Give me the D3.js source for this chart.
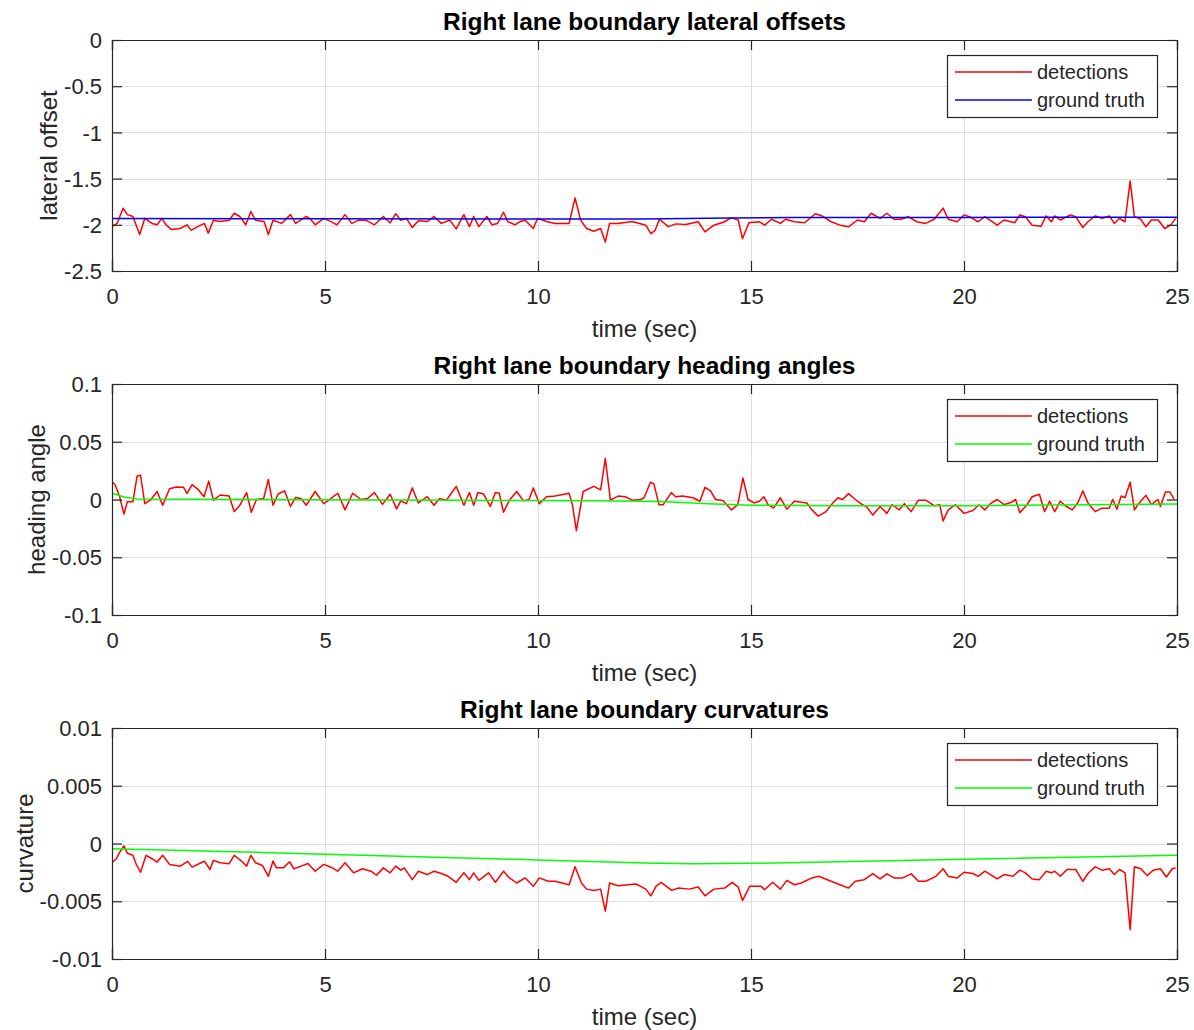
<!DOCTYPE html>
<html>
<head>
<meta charset="utf-8">
<script src="https://cdn.jsdelivr.net/npm/d3@7"></script>
<style>
  html, body { margin: 0; padding: 0; background: #fff; }
  svg { display: block; font-family: "Liberation Sans", Arial, Helvetica, sans-serif; }
</style>
</head>
<body>
<svg id="chart" width="1194" height="1030"></svg>
<script>
// ---------------- DATA ----------------
const xTicks = [0, 5, 10, 15, 20, 25];
const xTickLabels = ["0", "5", "10", "15", "20", "25"];

const titles = ["Right lane boundary lateral offsets", "Right lane boundary heading angles", "Right lane boundary curvatures"];
const yLabels = ["lateral offset", "heading angle", "curvature"];
const xLabel = "time (sec)";
const legendLabels = ["detections", "ground truth"];

const yTicks1 = [0, -0.5, -1, -1.5, -2, -2.5];
const yTickLabels1 = ["0", "-0.5", "-1", "-1.5", "-2", "-2.5"];
const yTicks2 = [0.1, 0.05, 0, -0.05, -0.1];
const yTickLabels2 = ["0.1", "0.05", "0", "-0.05", "-0.1"];
const yTicks3 = [0.01, 0.005, 0, -0.005, -0.01];
const yTickLabels3 = ["0.01", "0.005", "0", "-0.005", "-0.01"];

// Panel 1: lateral offset detections
const t1 = [0.00,0.12,0.26,0.36,0.49,0.65,0.77,0.94,1.06,1.17,1.27,1.39,1.60,1.76,1.86,2.01,2.17,2.26,2.38,2.54,2.75,2.87,3.00,3.14,3.26,3.37,3.57,3.67,3.78,3.98,4.19,4.31,4.56,4.64,4.77,4.97,5.14,5.28,5.47,5.63,5.79,5.96,6.16,6.37,6.53,6.66,6.78,6.91,7.05,7.19,7.40,7.56,7.73,7.93,8.08,8.26,8.39,8.49,8.61,8.80,8.92,9.05,9.19,9.29,9.46,9.58,9.70,9.89,9.99,10.20,10.40,10.73,10.87,11.00,11.14,11.31,11.47,11.58,11.68,11.88,12.21,12.38,
  12.53,12.65,12.75,12.85,13.06,13.23,13.47,13.76,13.92,14.13,14.38,14.54,14.70,14.80,14.95,15.20,15.32,15.48,15.69,15.81,16.02,16.26,16.51,16.67,16.88,17.09,17.29,17.50,17.66,17.82,18.03,18.19,18.36,18.52,18.69,18.89,19.10,19.30,19.51,19.63,19.84,20.00,20.16,20.33,20.49,20.78,20.94,21.19,21.31,21.44,21.60,21.81,21.93,22.05,22.13,22.26,22.50,22.62,22.79,22.91,23.08,23.24,23.41,23.53,23.65,23.78,23.90,24.00,24.15,24.27,24.40,24.56,24.71,24.85,24.97];
const lat1 = [-2.02,-1.985,-1.82,-1.89,-1.91,-2.105,-1.93,-1.985,-2.00,-1.93,-2.00,-2.05,-2.04,-2.00,-2.06,-2.02,-1.985,-2.09,-1.95,-1.965,-1.95,-1.875,-1.91,-2.00,-1.857,-1.95,-1.965,-2.105,-1.95,-1.985,-1.89,-1.985,-1.91,-1.93,-2.00,-1.93,-1.965,-2.00,-1.89,-1.985,-1.95,-1.95,-2.00,-1.91,-1.98,-1.88,-1.95,-1.93,-2.03,-1.956,-1.965,-1.91,-1.985,-1.95,-2.044,-1.89,-2.02,-1.91,-2.02,-1.91,-2.00,-1.985,-1.864,-1.965,-2.00,-1.965,-1.95,-2.04,-1.93,-1.965,-1.985,-1.985,-1.71,-1.95,-2.04,-2.07,-2.04,-2.187,-1.985,-1.985,-1.965,-1.985,
  -2.004,-2.096,-2.06,-1.94,-2.02,-1.99,-1.996,-1.967,-2.077,-2.004,-1.967,-1.923,-1.948,-2.15,-1.978,-1.967,-2.004,-1.94,-1.985,-1.94,-1.967,-1.978,-1.88,-1.904,-1.967,-2.004,-2.022,-1.948,-1.967,-1.875,-1.93,-1.875,-1.94,-1.94,-1.912,-1.967,-1.985,-1.94,-1.82,-1.94,-1.967,-1.893,-1.919,-1.967,-1.912,-2.004,-1.948,-1.978,-1.893,-1.912,-2.004,-2.015,-1.904,-1.967,-1.904,-1.948,-1.893,-1.912,-2.029,-1.967,-1.904,-1.93,-1.904,-1.985,-1.93,-1.967,-1.526,-1.912,-1.94,-2.022,-1.948,-1.948,-2.04,-2.004,-1.93];
// Panel 1: ground truth
const gtT1 = [0, 5, 10, 12.4, 13.5, 14.5, 16, 20, 25];
const gtLat1 = [-1.932, -1.935, -1.937, -1.937, -1.933, -1.926, -1.922, -1.92, -1.918];

// Panel 2: heading angle detections
const t2 = [0.00,0.07,0.18,0.28,0.36,0.49,0.59,0.67,0.77,0.90,1.06,1.19,1.35,1.51,1.68,1.76,1.88,2.01,2.16,2.27,2.38,2.54,2.75,2.87,3.00,3.16,3.27,3.39,3.56,3.67,3.78,3.90,4.05,4.19,4.31,4.44,4.56,4.77,4.97,5.09,5.30,5.47,5.65,5.84,6.00,6.16,6.35,6.53,6.68,6.78,6.91,7.05,7.19,7.40,7.56,7.69,7.85,8.08,8.26,8.39,8.49,8.59,8.72,8.88,9.00,9.09,9.19,9.33,9.50,9.66,9.79,9.89,10.03,10.20,10.40,10.73,10.81,10.90,11.06,11.31,11.47,11.58,11.70,11.88,12.05,12.21,12.41,12.49,
  12.64,12.72,12.84,12.94,13.13,13.23,13.39,13.64,13.80,13.92,14.05,14.17,14.34,14.54,14.69,14.81,14.93,15.07,15.20,15.30,15.40,15.53,15.69,15.84,16.02,16.18,16.31,16.43,16.58,16.76,16.92,17.04,17.15,17.29,17.45,17.58,17.72,17.86,18.03,18.19,18.31,18.48,18.60,18.76,18.93,19.10,19.30,19.43,19.51,19.63,19.80,20.00,20.21,20.35,20.49,20.62,20.78,20.94,21.11,21.21,21.31,21.48,21.60,21.77,21.89,22.01,22.13,22.26,22.38,22.54,22.67,22.79,22.91,23.08,23.24,23.41,23.49,23.59,23.69,23.78,23.90,24.00,24.10,24.27,24.40,24.55,24.61,24.73,24.83,24.93];
const head2 = [0.015,0.013,0.0024,-0.0126,-0.002,-0.002,0.0204,0.021,-0.0036,-0.0006,0.0069,-0.005,0.0093,0.0108,0.0105,0.0054,0.0129,0.009,0.0024,0.0159,-0.0006,0.0039,0.003,-0.0105,-0.005,0.006,-0.011,0,0.0009,0.0174,-0.005,0.0048,0.0075,-0.006,0.0018,0.0009,-0.005,0.0069,-0.0036,-0.0006,0.0054,-0.009,0.0054,0,0.0009,0.006,-0.0042,0.0045,-0.0081,-0.0012,-0.0036,0.0099,-0.003,0.0024,-0.005,0.0009,-0.0006,0.0114,-0.005,0.006,-0.005,0.006,0.0048,-0.006,0.006,0.0054,-0.011,-0.0006,0.0069,-0.0012,0,0.0099,-0.0036,0.0024,0.003,0.0054,-0.005,-0.027,0.0069,0.0114,0.0084,0.0354,-0.0006,0.003,0.0024,-0.0006,0,0.0015,
  0.015,0.0135,-0.0045,-0.0045,0.006,0.0024,0.003,0.0015,-0.0015,0.0105,0.0075,0,-0.0009,-0.009,-0.0045,0.0186,0,-0.003,-0.0015,0.0024,-0.0045,-0.0075,0.0015,-0.0084,-0.0015,-0.0024,-0.003,-0.009,-0.0144,-0.0105,-0.003,0.0015,0,0.0051,0,-0.0036,-0.0066,-0.0135,-0.006,-0.012,-0.0045,-0.009,-0.0036,-0.0105,-0.0006,-0.0006,-0.0054,-0.0045,-0.0186,-0.009,-0.0045,-0.012,-0.0096,-0.0045,-0.009,-0.0036,0,-0.0045,-0.0024,0,-0.0114,-0.0045,0.0024,0.0045,-0.0105,-0.0015,-0.0105,-0.0015,-0.0054,-0.009,-0.003,0.0075,-0.003,-0.0105,-0.0075,-0.0075,0,-0.0084,0.003,0.0015,0.015,-0.009,-0.0036,0.0036,-0.0045,0,-0.006,0.0066,0.0066,0.0006];
// Panel 2: ground truth
const gtT2 = [0, 0.3, 0.6, 2, 5, 8, 10, 12, 13, 14, 15, 17, 20, 23, 25];
const gtHead2 = [0.0055, 0.002, 0.0005, 0.0003, -0.0002, -0.0006, -0.0009, -0.0012, -0.002, -0.0036, -0.005, -0.0054, -0.0054, -0.0046, -0.0038];

// Panel 3: curvature detections
const t3 = [0.00,0.10,0.20,0.28,0.36,0.49,0.57,0.67,0.80,0.94,1.06,1.19,1.35,1.60,1.78,1.88,2.09,2.17,2.30,2.38,2.54,2.75,2.87,3.04,3.16,3.26,3.37,3.53,3.67,3.78,3.86,4.02,4.17,4.27,4.44,4.60,4.77,4.97,5.14,5.30,5.47,5.67,5.88,6.08,6.21,6.37,6.53,6.66,6.78,6.86,7.05,7.19,7.40,7.56,7.73,7.89,8.08,8.26,8.39,8.49,8.61,8.84,9.00,9.19,9.33,9.50,9.70,9.89,10.03,10.24,10.40,10.73,10.87,11.02,11.14,11.31,11.47,11.58,11.68,11.88,12.12,12.30,
  12.41,12.53,12.65,12.77,12.89,13.14,13.30,13.55,13.76,13.92,14.13,14.38,14.56,14.70,14.80,14.97,15.24,15.32,15.51,15.69,15.84,16.02,16.18,16.43,16.59,16.88,17.09,17.29,17.45,17.66,17.86,18.03,18.19,18.36,18.56,18.76,18.93,19.10,19.34,19.51,19.63,19.84,20.00,20.21,20.33,20.49,20.78,20.94,21.15,21.31,21.44,21.60,21.77,21.93,22.05,22.13,22.26,22.42,22.62,22.79,22.91,23.08,23.24,23.41,23.53,23.65,23.78,23.90,24.00,24.15,24.30,24.44,24.61,24.75,24.89,24.97];
const curv3 = [-0.00167,-0.00132,-0.00064,-0.0002,-0.00085,-0.00102,-0.00181,-0.00249,-0.00102,-0.00132,-0.00161,-0.00102,-0.00181,-0.00196,-0.00155,-0.00205,-0.00167,-0.00152,-0.00225,-0.00146,-0.00167,-0.00175,-0.00102,-0.00152,-0.00196,-0.00102,-0.00167,-0.0019,-0.00284,-0.00152,-0.00211,-0.00211,-0.00158,-0.00219,-0.00196,-0.00173,-0.0024,-0.00181,-0.00205,-0.0024,-0.00167,-0.00254,-0.00219,-0.0024,-0.00275,-0.00211,-0.00254,-0.00196,-0.00231,-0.00211,-0.00313,-0.0024,-0.00269,-0.0024,-0.0026,-0.00284,-0.00336,-0.00254,-0.00313,-0.00254,-0.00319,-0.00254,-0.00336,-0.0024,-0.00298,-0.00342,-0.00298,-0.00371,-0.00298,-0.00327,-0.00327,-0.00357,-0.00202,-0.00342,-0.00395,-0.00406,-0.00395,-0.00585,-0.00342,-0.00366,-0.00357,-0.00351,
  -0.00371,-0.00395,-0.00453,-0.00371,-0.00336,-0.00406,-0.00386,-0.00395,-0.00377,-0.00453,-0.00395,-0.00386,-0.00336,-0.00377,-0.00494,-0.00371,-0.00371,-0.00401,-0.00336,-0.00395,-0.00319,-0.00357,-0.00342,-0.00298,-0.00284,-0.00327,-0.00357,-0.00386,-0.00327,-0.00313,-0.0026,-0.00307,-0.00263,-0.00298,-0.00298,-0.00263,-0.00327,-0.00327,-0.00284,-0.00219,-0.00284,-0.00298,-0.00249,-0.0026,-0.00284,-0.0024,-0.00307,-0.00269,-0.00284,-0.00231,-0.00254,-0.00307,-0.00313,-0.0024,-0.00254,-0.0024,-0.00284,-0.00225,-0.00225,-0.00327,-0.0026,-0.00202,-0.00231,-0.00219,-0.00269,-0.00225,-0.00254,-0.00746,-0.00202,-0.00219,-0.00278,-0.00231,-0.00219,-0.0029,-0.00219,-0.00211];
// Panel 3: ground truth
const gtT3 = [0, 5, 10, 12.5, 13.6, 15, 20, 25];
const gtCurv3 = [-0.00045, -0.00092, -0.00142, -0.00168, -0.00175, -0.00172, -0.00136, -0.00102];

// ---------------- LAYOUT / STYLE ----------------
const svg = d3.select("#chart");
const L = 112, R = 1177;
const tops = [40, 384, 728];
const H = 231;
const axisColor = "#262626";
const gridColor = "#dfdfdf";
const tickLen = 10;
const fontTick = 22, fontLabel = 24, fontTitle = 24.5, fontLegend = 20;

const panels = [
  { title: titles[0], ylabel: yLabels[0], domain: [-2.5, 0], ticks: yTicks1, tickLabels: yTickLabels1,
    det: t1.map((t, i) => [t, lat1[i]]), gt: gtT1.map((t, i) => [t, gtLat1[i]]), gtColor: "#0000ff" },
  { title: titles[1], ylabel: yLabels[1], domain: [-0.1, 0.1], ticks: yTicks2, tickLabels: yTickLabels2,
    det: t2.map((t, i) => [t, head2[i]]), gt: gtT2.map((t, i) => [t, gtHead2[i]]), gtColor: "#00ff00" },
  { title: titles[2], ylabel: yLabels[2], domain: [-0.01, 0.01], ticks: yTicks3, tickLabels: yTickLabels3,
    det: t3.map((t, i) => [t, curv3[i]]), gt: gtT3.map((t, i) => [t, gtCurv3[i]]), gtColor: "#00ff00" }
];

const x = d3.scaleLinear().domain([0, 25]).range([L, R]);

panels.forEach((p, pi) => {
  const top = tops[pi], bot = top + H;
  const y = d3.scaleLinear().domain(p.domain).range([bot, top]);
  const g = svg.append("g");

  // clip
  const clipId = "clip" + pi;
  svg.append("clipPath").attr("id", clipId).append("rect")
    .attr("x", L).attr("y", top).attr("width", R - L).attr("height", H);

  // grid
  g.append("g").selectAll("line").data(xTicks).join("line")
    .attr("x1", d => Math.round(x(d)) + 0.5).attr("x2", d => Math.round(x(d)) + 0.5)
    .attr("y1", top).attr("y2", bot).attr("stroke", gridColor).attr("stroke-width", 1);
  g.append("g").selectAll("line").data(p.ticks).join("line")
    .attr("y1", d => Math.round(y(d)) + 0.5).attr("y2", d => Math.round(y(d)) + 0.5)
    .attr("x1", L).attr("x2", R).attr("stroke", gridColor).attr("stroke-width", 1);

  // lines
  const line = d3.line().x(d => x(d[0])).y(d => y(d[1]));
  g.append("path").datum(p.det).attr("clip-path", `url(#${clipId})`)
    .attr("d", line).attr("fill", "none").attr("stroke", "#ff0000").attr("stroke-width", 1.5)
    .attr("stroke-linejoin", "round");
  g.append("path").datum(p.gt).attr("clip-path", `url(#${clipId})`)
    .attr("d", line).attr("fill", "none").attr("stroke", p.gtColor).attr("stroke-width", 1.5);

  // axes (ticks inward on all sides)
  const fmtX = (d, i) => xTickLabels[i];
  const fmtY = (d, i) => p.tickLabels[i];
  const axB = g.append("g").attr("transform", `translate(0,${bot})`)
    .call(d3.axisBottom(x).tickValues(xTicks).tickFormat(fmtX).tickSize(-tickLen));
  const axT = g.append("g").attr("transform", `translate(0,${top})`)
    .call(d3.axisTop(x).tickValues(xTicks).tickFormat("").tickSize(-tickLen));
  const axL = g.append("g").attr("transform", `translate(${L},0)`)
    .call(d3.axisLeft(y).tickValues(p.ticks).tickFormat(fmtY).tickSize(-tickLen).tickPadding(10));
  const axR = g.append("g").attr("transform", `translate(${R},0)`)
    .call(d3.axisRight(y).tickValues(p.ticks).tickFormat("").tickSize(-tickLen));
  [axB, axT, axL, axR].forEach(a => {
    a.select(".domain").attr("stroke", axisColor).attr("stroke-width", 1.2);
    a.selectAll(".tick line").attr("stroke", axisColor).attr("stroke-width", 1.2);
    a.selectAll(".tick text").attr("fill", axisColor).attr("font-size", fontTick)
      .attr("font-family", "'Liberation Sans', Arial, Helvetica, sans-serif");
  });
  axB.selectAll(".tick text").attr("y", 33).attr("dy", null);
  axL.selectAll(".tick text").attr("dy", "0.35em");

  // measure widest y tick label
  let maxW = 0;
  axL.selectAll(".tick text").each(function () { maxW = Math.max(maxW, this.getBBox().width); });

  // y label
  const ylx = L - 10 - maxW - 7;
  g.append("text").attr("transform", `translate(${ylx},${(top + bot) / 2}) rotate(-90)`)
    .attr("text-anchor", "middle").attr("font-size", fontLabel).attr("fill", axisColor)
    .text(p.ylabel);

  // x label
  g.append("text").attr("x", (L + R) / 2).attr("y", bot + 66)
    .attr("text-anchor", "middle").attr("font-size", fontLabel).attr("fill", axisColor)
    .text(xLabel);

  // title
  g.append("text").attr("x", (L + R) / 2).attr("y", top - 10)
    .attr("text-anchor", "middle").attr("font-size", fontTitle).attr("font-weight", "bold")
    .attr("fill", "#000").text(p.title);

  // legend
  const lgW = 210, lgH = 62;
  const lgX = R - 20 - lgW, lgY = top + 15;
  const lg = g.append("g");
  lg.append("rect").attr("x", lgX + 0.5).attr("y", lgY + 0.5).attr("width", lgW).attr("height", lgH)
    .attr("fill", "#fff").attr("stroke", axisColor).attr("stroke-width", 1.2);
  const colors = ["#ff0000", p.gtColor];
  legendLabels.forEach((lab, i) => {
    const cy = lgY + 17 + i * 28;
    lg.append("line").attr("x1", lgX + 8).attr("x2", lgX + 85).attr("y1", cy).attr("y2", cy)
      .attr("stroke", colors[i]).attr("stroke-width", 1.5);
    lg.append("text").attr("x", lgX + 90).attr("y", cy).attr("dy", "0.35em")
      .attr("font-size", fontLegend).attr("fill", axisColor).text(lab);
  });
});
</script>
</body>
</html>
